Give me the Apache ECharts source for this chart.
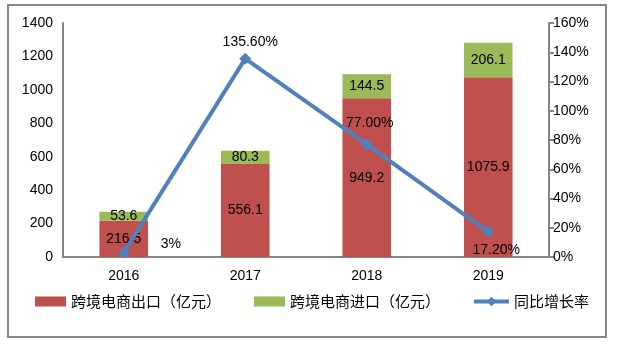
<!DOCTYPE html>
<html><head><meta charset="utf-8">
<script src="https://cdn.jsdelivr.net/npm/echarts@6/dist/echarts.min.js"></script>
<style>html,body{margin:0;padding:0;background:#fff}#c{width:636px;height:350px}</style>
</head><body><div id="c"></div>
<script>
const categories = ['2016', '2017', '2018', '2019'];
const exportVals = [216.5, 556.1, 949.2, 1075.9];
const importVals = [53.6, 80.3, 144.5, 206.1];
const growthVals = [3, 135.6, 77, 17.2];
const growthLabels = ['3%', '135.60%', '77.00%', '17.20%'];
const seriesNames = ['跨境电商出口（亿元）', '跨境电商进口（亿元）', '同比增长率'];

const labelStyle = [
  { position: 'right', offset: [26, -8] },
  { position: 'top', offset: [5, 1] },
  { position: 'top', offset: [3, -3] },
  { position: 'bottom', offset: [8, 0] }
];
const numFont = 'Liberation Sans, Arial, sans-serif';
const cjkFont = 'Noto Sans CJK SC, sans-serif';
const axisColor = '#868686';

const chart = echarts.init(document.getElementById('c'));
const legendText = { fontSize: 15, fontFamily: cjkFont, color: '#000' };
chart.setOption({
  animation: false,
  textStyle: { fontFamily: numFont },
  graphic: [{
    type: 'rect', shape: { x: 8, y: 5, width: 598, height: 332 },
    style: { fill: 'none', stroke: axisColor, lineWidth: 2 }, silent: true
  }],
  grid: { left: 63, right: 87, top: 23, bottom: 93 },
  legend: [
    { data: [seriesNames[0]], left: 30, top: 289, itemWidth: 31, itemHeight: 10, itemGap: 5,
      icon: 'rect', textStyle: legendText },
    { data: [seriesNames[1]], left: 249, top: 289, itemWidth: 31, itemHeight: 10,
      icon: 'rect', textStyle: legendText },
    { data: [seriesNames[2]], left: 467, top: 289, itemWidth: 35, itemHeight: 12,
      lineStyle: { width: 4 }, textStyle: legendText }
  ],
  xAxis: {
    type: 'category', data: categories,
    axisLine: { lineStyle: { color: axisColor, width: 2 } },
    axisTick: { show: false },
    axisLabel: { color: '#000', fontSize: 14, margin: 12, fontFamily: numFont }
  },
  yAxis: [
    { type: 'value', min: 0, max: 1400, interval: 200,
      axisLine: { show: true, lineStyle: { color: axisColor, width: 2 } },
      axisTick: { show: false }, splitLine: { show: false },
      axisLabel: { color: '#000', fontSize: 14, margin: 10, fontFamily: numFont,
        formatter: v => String(v) } },
    { type: 'value', min: 0, max: 160, interval: 20, position: 'right',
      axisLine: { show: true, lineStyle: { color: axisColor, width: 2 } },
      axisTick: { show: true, length: 5, lineStyle: { color: axisColor, width: 2 } },
      splitLine: { show: false },
      axisLabel: { color: '#000', fontSize: 14, margin: 4, formatter: '{value}%', fontFamily: numFont } }
  ],
  series: [
    { name: seriesNames[0], type: 'bar', stack: 'a', barWidth: '40%', data: exportVals,
      itemStyle: { color: '#C0504D' },
      label: { show: true, position: 'inside', color: '#000', fontSize: 14, fontFamily: numFont } },
    { name: seriesNames[1], type: 'bar', stack: 'a', barWidth: '40%', data: importVals,
      itemStyle: { color: '#9BBB59' },
      label: { show: true, position: 'inside', color: '#000', fontSize: 14, fontFamily: numFont } },
    { name: seriesNames[2], type: 'line', yAxisIndex: 1, z: 5,
      symbol: 'diamond', symbolSize: 12,
      lineStyle: { color: '#4F81BD', width: 4 },
      itemStyle: { color: '#4F81BD' },
      data: growthVals.map((v, i) => ({
        value: v,
        label: { show: true, position: labelStyle[i].position, offset: labelStyle[i].offset,
          formatter: growthLabels[i], color: '#000', fontSize: 14, fontFamily: numFont }
      }))
    }
  ]
});
</script></body></html>
